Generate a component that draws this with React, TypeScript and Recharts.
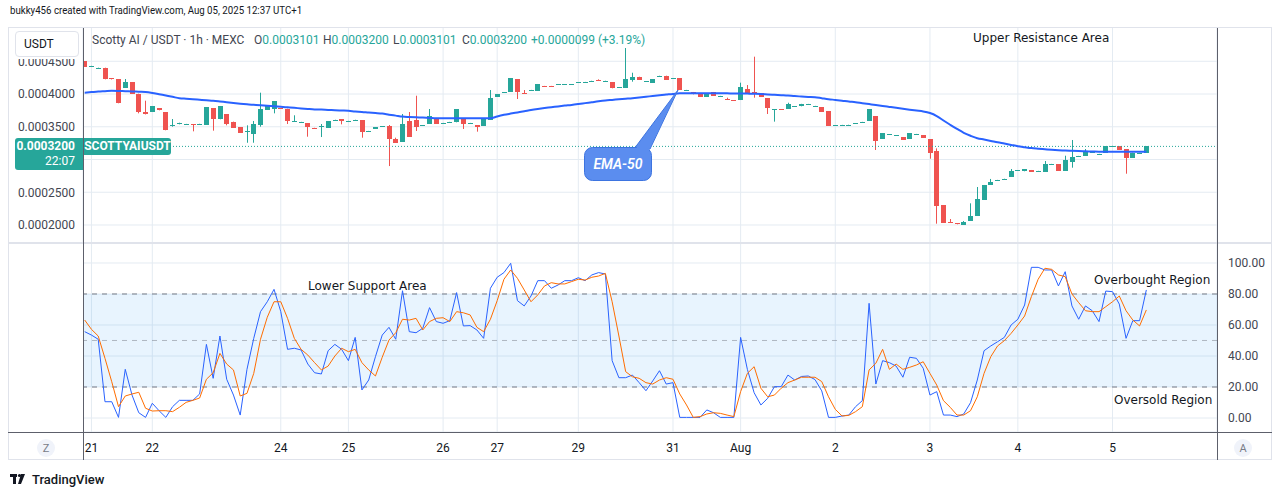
import React from 'react';
import {
  ComposedChart,
  Bar,
  Line,
  XAxis,
  YAxis,
  CartesianGrid,
  ReferenceLine,
  ReferenceArea,
} from 'recharts';

// Prices are kept in units of 1e-7 USDT (4000 = 0.0004000)
const OPEN = [
  4504, 4418, 4395, 4400, 4244, 4224, 4097, 4178, 4005, 3730, 3730, 3786, 3725, 3523, 3537, 3540, 3537, 3540, 3532, 3782,
  3614, 3690, 3578, 3496, 3420, 3389, 3527, 3756, 3766, 3786, 3776, 3585, 3571, 3557, 3484, 3505, 3485, 3606, 3614, 3586,
  3606, 3603, 3433, 3466, 3505, 3511, 3313, 3272, 3588, 3603, 3520, 3547, 3634, 3555, 3571, 3568, 3618, 3555, 3522, 3517,
  3603, 3959, 4023, 4031, 4229, 4017, 4059, 4051, 4124, 4124, 4146, 4146, 4146, 4176, 4181, 4202, 4211, 4202, 4183, 4100,
  4097, 4214, 4264, 4192, 4173, 4278, 4280, 4238, 4244, 4059, 4031, 4005, 3959, 4031, 3968, 3928, 3906, 3908, 4076, 4031,
  4010, 3939, 3764, 3768, 3771, 3810, 3812, 3845, 3815, 3797, 3740, 3520, 3525, 3530, 3550, 3571, 3593, 3664, 3317, 3383,
  3367, 3343, 3317, 3387, 3369, 3313, 3130, 2305, 2046, 2030, 2005, 2065, 2142, 2386, 2615, 2685, 2705, 2737, 2833, 2820,
  2840, 2823, 2814, 2929, 2931, 2829, 2962, 3051, 3058, 3108, 3082, 3104, 3204, 3206, 3160, 3027, 3102, 3101,
];
const HIGH = [
  4504, 4430, 4402, 4402, 4244, 4226, 4229, 4180, 4005, 3898, 3817, 3786, 3725, 3618, 3562, 3544, 3537, 3545, 3796, 3782,
  3817, 3690, 3578, 3496, 3522, 3588, 4020, 3832, 3893, 3786, 3776, 3675, 3575, 3557, 3484, 3542, 3588, 3610, 3614, 3590,
  3610, 3603, 3437, 3496, 3509, 3527, 3333, 3695, 3725, 3974, 3524, 3771, 3634, 3559, 3575, 3771, 3618, 3559, 3522, 3614,
  4061, 4000, 4027, 4244, 4229, 4061, 4063, 4153, 4124, 4124, 4150, 4150, 4150, 4180, 4185, 4206, 4224, 4206, 4183, 4104,
  4702, 4325, 4264, 4196, 4229, 4282, 4280, 4242, 4244, 4063, 4031, 4005, 4010, 4031, 3972, 3944, 3906, 4173, 4137, 4570,
  4010, 3939, 3768, 3768, 3867, 3814, 3850, 3849, 3819, 3797, 3740, 3524, 3529, 3534, 3554, 3575, 3771, 3664, 3400, 3387,
  3371, 3343, 3404, 3391, 3369, 3313, 3170, 2305, 2091, 2030, 2060, 2331, 2580, 2611, 2703, 2689, 2709, 2855, 2837, 2850,
  2840, 2827, 2977, 2933, 2931, 3058, 3298, 3055, 3160, 3112, 3086, 3206, 3208, 3206, 3160, 3104, 3106, 3200,
];
const LOW = [
  4417, 4416, 4394, 4224, 4222, 3858, 4097, 4005, 3705, 3688, 3730, 3751, 3446, 3501, 3537, 3540, 3430, 3540, 3532, 3440,
  3614, 3522, 3485, 3409, 3256, 3256, 3501, 3756, 3705, 3771, 3542, 3585, 3571, 3348, 3479, 3343, 3485, 3606, 3537, 3586,
  3606, 3333, 3433, 3466, 3505, 2900, 3256, 3272, 3348, 3435, 3520, 3547, 3547, 3555, 3571, 3568, 3466, 3555, 3425, 3517,
  3603, 3959, 4023, 4031, 3924, 4013, 4059, 4051, 4120, 4120, 4146, 4146, 4146, 4176, 4181, 4202, 4207, 4202, 4087, 4100,
  4097, 4188, 4214, 4192, 4173, 4278, 4214, 4238, 4061, 4059, 3995, 3959, 3959, 3974, 3968, 3913, 3902, 3908, 4010, 3944,
  3959, 3695, 3578, 3764, 3771, 3810, 3812, 3845, 3815, 3730, 3517, 3520, 3525, 3530, 3550, 3571, 3593, 3145, 3317, 3383,
  3367, 3302, 3317, 3387, 3333, 3012, 2020, 2035, 2036, 2010, 2005, 2065, 2142, 2386, 2615, 2685, 2705, 2737, 2833, 2820,
  2814, 2823, 2814, 2929, 2829, 2829, 2875, 3051, 3058, 3108, 3082, 3104, 3204, 3145, 2783, 3027, 3102, 3101,
];
const CLOSE = [
  4417, 4426, 4400, 4224, 4224, 3858, 4188, 4005, 3725, 3690, 3817, 3751, 3446, 3530, 3562, 3544, 3522, 3545, 3796, 3618,
  3817, 3542, 3485, 3409, 3440, 3542, 3771, 3832, 3893, 3771, 3583, 3590, 3575, 3496, 3479, 3509, 3588, 3610, 3583, 3590,
  3610, 3425, 3437, 3496, 3509, 3317, 3256, 3542, 3348, 3491, 3524, 3664, 3547, 3559, 3575, 3771, 3537, 3559, 3491, 3614,
  3934, 4000, 4027, 4244, 4031, 4013, 4063, 4153, 4120, 4120, 4150, 4150, 4150, 4180, 4185, 4206, 4207, 4206, 4087, 4104,
  4224, 4264, 4214, 4196, 4229, 4282, 4214, 4242, 4061, 4063, 3995, 3959, 4010, 3974, 3972, 3913, 3902, 4107, 4010, 4010,
  3959, 3786, 3768, 3764, 3847, 3814, 3842, 3849, 3819, 3730, 3517, 3524, 3529, 3534, 3554, 3575, 3771, 3287, 3400, 3387,
  3371, 3302, 3404, 3391, 3333, 3104, 2294, 2035, 2036, 2010, 2046, 2137, 2397, 2611, 2656, 2689, 2709, 2824, 2837, 2850,
  2814, 2827, 2926, 2933, 2829, 2992, 3038, 3055, 3130, 3112, 3086, 3206, 3208, 3145, 3027, 3104, 3106, 3200,
];
const EMA_50 = [
  4021, 4029, 4037, 4043, 4049, 4047, 4043, 4040, 4035, 4031, 4017, 3997, 3977, 3957, 3936, 3928, 3921, 3913, 3905, 3898,
  3887, 3875, 3864, 3853, 3843, 3835, 3827, 3820, 3812, 3805, 3797, 3789, 3780, 3772, 3765, 3762, 3757, 3753, 3748, 3743,
  3734, 3727, 3718, 3710, 3701, 3685, 3670, 3655, 3649, 3644, 3640, 3634, 3629, 3629, 3629, 3629, 3629, 3629, 3629, 3629,
  3630, 3658, 3682, 3701, 3719, 3737, 3756, 3772, 3786, 3798, 3811, 3823, 3834, 3847, 3861, 3875, 3889, 3901, 3910, 3919,
  3928, 3937, 3948, 3959, 3969, 3980, 3991, 4002, 4011, 4011, 4011, 4011, 4011, 4011, 4011, 4010, 4009, 4008, 4006, 4004,
  4001, 3994, 3988, 3982, 3976, 3968, 3962, 3956, 3951, 3936, 3921, 3910, 3898, 3885, 3875, 3860, 3846, 3832, 3817, 3803,
  3789, 3774, 3760, 3747, 3734, 3710, 3664, 3595, 3530, 3467, 3408, 3363, 3325, 3305, 3284, 3262, 3243, 3223, 3203, 3188,
  3174, 3165, 3157, 3149, 3142, 3136, 3132, 3128, 3125, 3122, 3119, 3119, 3119, 3119, 3118, 3118, 3119, 3120,
];

// Stochastic %K and %D, one value per candle
const STOCH_K = [
  55.7, 53.5, 50.8, 10.5, 10.5, 0.4, 31.4, 14.8, 3.4, 0.4, 9.5, 4.7, 0.4, 7.3, 11.4, 11.4, 11.4, 15.5, 47.5, 25.6,
  52.9, 25, 14.8, 1.9, 31.4, 51.4, 68.6, 75, 83, 68.6, 44.3, 45, 43.9, 34.8, 29.2, 28.4, 43.4, 47.5, 44.3, 37,
  52, 18.1, 24.5, 39.6, 53.5, 58.5, 50.8, 82.1, 55.7, 55, 57.9, 71.2, 62.2, 61.1, 62.8, 80.9, 59.4, 59.6, 56.8, 51.4,
  83.7, 90.8, 93.8, 99.8, 75.7, 72.3, 78.7, 88.6, 88.6, 83.7, 85.8, 88.6, 88.6, 90.5, 88.6, 92.3, 93.8, 92.9, 37, 26,
  26, 27.7, 22.8, 17.6, 23.9, 30.5, 21.9, 22.8, 0.4, 0.4, 0.4, 0.4, 5.2, 3.4, 0.4, 0.4, 0.4, 52, 31.4, 16.3,
  8.4, 12.7, 20.2, 20.2, 27.7, 24.5, 26.8, 27.1, 24.8, 17.5, 0.4, 0.4, 1.3, 1.9, 7.3, 11.2, 74, 21.9, 37, 35.7,
  33.5, 26.3, 39.2, 38.5, 32.1, 14.8, 17, 1.9, 1.9, 0.9, 2.6, 9.9, 24.5, 43.4, 46.5, 49.2, 52, 60, 63.7, 72.9,
  97.2, 97.2, 95.5, 95.5, 85.2, 94.4, 72.3, 63.7, 72.3, 69.2, 62.2, 81.9, 81.5, 73.5, 51.4, 62.8, 62.8, 82.6,
];
const STOCH_D = [
  63.2, 57.2, 52.9, 38.5, 23.4, 7.3, 14.2, 15.5, 16.6, 6.3, 4.5, 4.7, 4.7, 4.1, 6.9, 10.1, 11.4, 12.9, 25, 29.2,
  41.7, 34.8, 31, 14.2, 15.9, 28.8, 50.8, 65, 75, 75, 64.3, 51.4, 44.3, 40.6, 35.7, 31, 33.5, 40, 45, 42.8,
  44.3, 35.7, 31, 27.1, 39.2, 50.3, 55, 63.7, 63.2, 64.3, 56.8, 62.2, 64.3, 64.7, 62.2, 68.6, 67.9, 66.5, 58.5, 55.7,
  63.7, 75.7, 89.5, 95.5, 90.1, 82.6, 75, 79.4, 85.2, 87.3, 86.5, 86.5, 88, 89.5, 89, 90.8, 91.6, 93.3, 75, 52.9,
  29.9, 26.6, 25.6, 22.8, 21.9, 24.5, 26, 25, 15.5, 8.4, 0.4, 0.9, 2.6, 3.4, 3, 1.9, 0.9, 17, 28.8, 33.1,
  19.2, 13.7, 14.8, 19.2, 22.8, 24.5, 26.3, 26.3, 26.3, 23.5, 13.7, 5.6, 1.3, 1.7, 4.1, 7.3, 31, 35.3, 44.3, 31.4,
  34.8, 31.4, 32.7, 34.2, 36.3, 28.8, 21.3, 11.2, 6.9, 1.9, 1.9, 4.7, 13.7, 28.8, 39.6, 46.5, 49.9, 54.6, 60, 65.8,
  78.3, 89.5, 96.6, 95.9, 92.3, 91.2, 80, 74.4, 69.2, 68.6, 68.6, 71.8, 75, 78.7, 69.2, 63.2, 59.4, 69.7,
];

// first candle of each day on the time scale
const DAY_TICKS = [1, 10, 29, 39, 53, 61, 73, 87, 97, 111, 125, 138, 152];
const DAY_LABELS = ['21', '22', '24', '25', '26', '27', '29', '31', 'Aug', '2', '3', '4', '5'];
// price grid; the 0.0003000 label sits under the last-price tag, so it gets a line but no label
const PRICE_GRID = [2000, 2500, 3000, 3500, 4000, 4500];
const PRICE_TICKS = [2000, 2500, 3500, 4000, 4500];
const STOCH_TICKS = [0, 20, 40, 60, 80, 100];
const LAST_PRICE = 3200;

const UP = '#26a69a';
const DOWN = '#ef5350';
const GRID = '#e4ebf2';
const TEXT = '#131722';
const AXIS = '#5d606b';
const FONT = 'Roboto, "Noto Sans", sans-serif';
const NOTE_FONT = '"DejaVu Sans", Verdana, sans-serif';

const X_DOMAIN: [number, number] = [-0.25, 167.45];
const PRICE_DOMAIN: [number, number] = [1725, 5008];

const candles = CLOSE.map((close, i) => ({
  i,
  open: OPEN[i],
  high: HIGH[i],
  low: LOW[i],
  close,
  ema: EMA_50[i],
}));

const stoch = STOCH_K.map((k, i) => ({ i, k, d: STOCH_D[i] }));

const fmtPrice = (v: number) => (v / 1e7).toFixed(7);
const fmtDay = (v: number) => DAY_LABELS[DAY_TICKS.indexOf(v)] ?? '';

// body + wick, positioned from the [low, high] range bar
const Candle = (props: any) => {
  const { x, y, width, height, payload } = props;
  if (!payload || height == null) return null;
  const { open, close, high, low } = payload;
  const color = close >= open ? UP : DOWN;
  const ratio = high === low ? 0 : height / (high - low);
  const top = Math.round(y + (high - Math.max(open, close)) * ratio);
  const bottom = Math.round(y + (high - Math.min(open, close)) * ratio);
  const left = Math.round(x + width / 2 - 2.5);
  return (
    <g>
      <line x1={left + 2.5} x2={left + 2.5} y1={y} y2={y + height} stroke={color} strokeWidth={1} />
      <rect x={left} y={top} width={5} height={Math.max(1, bottom - top)} fill={color} />
    </g>
  );
};

const abs = (style: React.CSSProperties): React.CSSProperties => ({ position: 'absolute', ...style });

export default function App() {
  return (
    <div
      style={{
        position: 'fixed',
        left: 0,
        top: 0,
        width: 1281,
        height: 497,
        background: '#fff',
        overflow: 'hidden',
        fontFamily: FONT,
        color: TEXT,
      }}
    >
      <div style={abs({ left: 10, top: 4, fontSize: 11, whiteSpace: 'nowrap', transform: 'scaleX(0.88)', transformOrigin: 'left' })}>
        bukky456 created with TradingView.com, Aug 05, 2025 12:37 UTC+1
      </div>

      <div style={abs({ left: 8, top: 27, width: 1264, height: 433, border: '1px solid #e0e3eb', boxSizing: 'border-box' })} />

      {/* price pane */}
      <div style={abs({ left: 8, top: 28 })}>
        <ComposedChart width={1209} height={215} data={candles} margin={{ top: 0, right: 0, bottom: 0, left: 0 }}>
          <CartesianGrid stroke={GRID} horizontalValues={PRICE_GRID} />
          <XAxis dataKey="i" type="number" domain={X_DOMAIN} ticks={DAY_TICKS} allowDataOverflow hide />
          <YAxis
            orientation="left"
            width={75}
            domain={PRICE_DOMAIN}
            ticks={PRICE_TICKS}
            tickFormatter={fmtPrice}
            allowDataOverflow
            axisLine={false}
            tickLine={false}
            tickSize={0}
            tickMargin={8}
            tick={{ fontSize: 12, fill: '#434651', fontFamily: FONT }}
          />
          <ReferenceLine y={LAST_PRICE} stroke={UP} strokeDasharray="1 2" />
          <Bar dataKey={(d: any) => [d.low, d.high]} shape={<Candle />} barSize={5} isAnimationActive={false} />
          <Line dataKey="ema" type="monotone" stroke="#2962ff" strokeWidth={2} dot={false} isAnimationActive={false} />
        </ComposedChart>
      </div>

      {/* stochastic pane + time scale */}
      <div style={abs({ left: 83, top: 243 })}>
        <ComposedChart width={1189} height={217} data={stoch} margin={{ top: 0, right: 0, bottom: 0, left: 0 }}>
          <CartesianGrid stroke={GRID} />
          <XAxis
            dataKey="i"
            type="number"
            domain={X_DOMAIN}
            ticks={DAY_TICKS}
            interval={0}
            allowDataOverflow
            height={28}
            tickFormatter={fmtDay}
            axisLine={false}
            tickLine={false}
            tickSize={0}
            tickMargin={11}
            tick={{ fontSize: 12, fill: TEXT, fontFamily: FONT }}
          />
          <YAxis
            orientation="right"
            width={55}
            domain={[-9.03, 112.9]}
            ticks={STOCH_TICKS}
            tickFormatter={(v: number) => v.toFixed(2)}
            allowDataOverflow
            axisLine={false}
            tickLine={false}
            tickSize={0}
            tickMargin={11}
            tick={{ fontSize: 12, fill: '#434651', fontFamily: FONT }}
          />
          <ReferenceArea y1={20} y2={80} fill="#2196f3" fillOpacity={0.1} stroke="none" />
          <ReferenceLine y={80} stroke="#787b86" strokeDasharray="5 5" />
          <ReferenceLine y={50} stroke="#787b86" strokeOpacity={0.5} strokeDasharray="5 5" />
          <ReferenceLine y={20} stroke="#787b86" strokeDasharray="5 5" />
          <Line dataKey="k" type="linear" stroke="#2962ff" strokeWidth={1} dot={false} isAnimationActive={false} />
          <Line dataKey="d" type="linear" stroke="#ff6d00" strokeWidth={1} dot={false} isAnimationActive={false} />
        </ComposedChart>
      </div>

      {/* pane borders */}
      <div style={abs({ left: 8, top: 242, width: 1264, height: 2, background: '#e0e3eb' })} />
      <div style={abs({ left: 8, top: 432, width: 1264, height: 1, background: AXIS })} />
      <div style={abs({ left: 83, top: 28, width: 1, height: 432, background: AXIS })} />
      <div style={abs({ left: 1217, top: 28, width: 1, height: 432, background: AXIS })} />

      {/* legend */}
      <div style={abs({ left: 9, top: 28, width: 73, height: 31, background: '#fff' })} />
      <div
        style={abs({
          left: 15,
          top: 31,
          width: 64,
          height: 26,
          background: '#fff',
          border: '1px solid #e0e3eb',
          borderRadius: 4,
          boxSizing: 'border-box',
          fontSize: 12,
          lineHeight: '24px',
          paddingLeft: 8,
        })}
      >
        USDT
      </div>
      <div style={abs({ left: 92, top: 33, fontSize: 12, color: '#434651', whiteSpace: 'nowrap' })}>
        Scotty AI / USDT · 1h · MEXC
      </div>
      {[
        ['O', '0.0003101', 254],
        ['H', '0.0003200', 323],
        ['L', '0.0003101', 393],
        ['C', '0.0003200', 462],
      ].map(([k, v, x]) => (
        <div key={k as string} style={abs({ left: x as number, top: 33, fontSize: 12, whiteSpace: 'nowrap' })}>
          <span style={{ color: '#434651' }}>{k}</span>
          <span style={{ color: UP }}>{v}</span>
        </div>
      ))}
      <div style={abs({ left: 531, top: 33, fontSize: 12, color: UP, whiteSpace: 'nowrap' })}>+0.0000099 (+3.19%)</div>

      {/* last price tags */}
      <div
        style={abs({
          left: 15,
          top: 138,
          width: 68,
          height: 32,
          background: UP,
          color: '#fff',
          borderRadius: '3px 0 0 3px',
          fontSize: 12,
          lineHeight: '15px',
          textAlign: 'right',
          paddingRight: 8,
          paddingTop: 1,
          boxSizing: 'border-box',
        })}
      >
        <div style={{ fontWeight: 700 }}>0.0003200</div>
        <div>22:07</div>
      </div>
      <div
        style={abs({
          left: 84,
          top: 138,
          width: 87,
          height: 17,
          background: UP,
          color: '#fff',
          borderRadius: '0 3px 3px 0',
          fontSize: 12,
          fontWeight: 700,
          lineHeight: '17px',
          textAlign: 'center',
        })}
      >
        SCOTTYAIUSDT
      </div>

      {/* drawings */}
      <div style={abs({ left: 973, top: 31, fontSize: 12, fontFamily: NOTE_FONT, whiteSpace: 'nowrap' })}>Upper Resistance Area</div>
      <div style={abs({ left: 308, top: 279, fontSize: 12, fontFamily: NOTE_FONT, whiteSpace: 'nowrap' })}>Lower Support Area</div>
      <div style={abs({ left: 1094, top: 273, fontSize: 12, fontFamily: NOTE_FONT, whiteSpace: 'nowrap' })}>Overbought Region</div>
      <div style={abs({ left: 1114, top: 393, fontSize: 12, fontFamily: NOTE_FONT, whiteSpace: 'nowrap' })}>Oversold Region</div>

      <svg width={1281} height={497} style={abs({ left: 0, top: 0, pointerEvents: 'none' })}>
        <polygon points="634,149 650,149 678,90" fill="#5b8def" stroke="#3d74e0" strokeWidth={1} />
        <rect x={584.5} y={147.5} width={67} height={33} rx={8} fill="#5b8def" stroke="#3d74e0" strokeWidth={1} />
        <polygon points="635,150 649,150 676,93" fill="#5b8def" />
        <text x={618} y={169} textAnchor="middle" fill="#fff" fontSize={14} fontStyle="italic" fontWeight={600} fontFamily={FONT}>
          EMA-50
        </text>

        <circle cx={46} cy={448} r={9} fill="#f0f3fa" />
        <text x={46} y={452} textAnchor="middle" fontSize={11} fill="#787b86" fontFamily={FONT}>
          Z
        </text>
        <circle cx={1243} cy={448} r={9} fill="#f0f3fa" />
        <text x={1243} y={452} textAnchor="middle" fontSize={11} fill="#787b86" fontFamily={FONT}>
          A
        </text>

        {/* TradingView mark */}
        <g fill={TEXT}>
          <rect x={10} y={474} width={7} height={3} />
          <rect x={13} y={474} width={3} height={10} />
          <circle cx={19.5} cy={475.5} r={1.6} />
          <polygon points="21,474 25,474 21,484 18,484" />
        </g>
        <text x={32} y={484} fontSize={13} fontWeight={500} fill={TEXT} fontFamily={FONT}>
          TradingView
        </text>
      </svg>
    </div>
  );
}
